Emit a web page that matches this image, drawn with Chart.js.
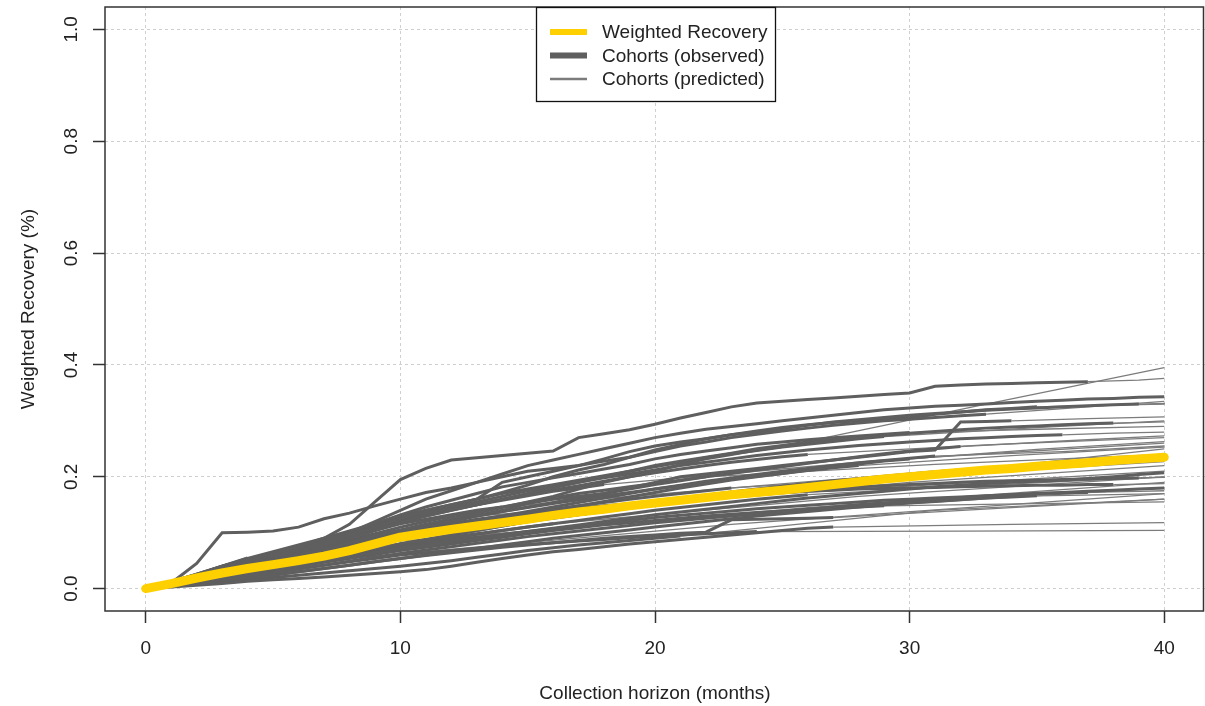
<!DOCTYPE html>
<html>
<head>
<meta charset="utf-8">
<script src="https://cdn.jsdelivr.net/npm/chart.js@4.4.1/dist/chart.umd.min.js"></script>
<style>
  html, body { margin: 0; padding: 0; background: #fff; }
</style>
</head>
<body>
<canvas id="myChart" width="1205" height="706"></canvas>
<script>
// weighted recovery by month 0..40
const weighted = [0, 0.009, 0.019, 0.028, 0.036, 0.043, 0.05, 0.058, 0.068, 0.08,
  0.092, 0.099, 0.106, 0.112, 0.118, 0.124, 0.131, 0.137, 0.142, 0.148,
  0.153, 0.158, 0.163, 0.168, 0.172, 0.176, 0.181, 0.186, 0.191, 0.196,
  0.2, 0.204, 0.208, 0.212, 0.215, 0.219, 0.222, 0.225, 0.229, 0.232, 0.235];

// observed cohort recovery, one value per month starting at month 0
const observed = [
  [0, .012, .025, .038, .05, .062, .075, .09, .115, .155, .195, .215, .23, .234, .238, .242, .246, .27, .277, .284, .294, .305, .315, .325, .332, .335, .338, .341, .344, .347, .35, .362, .364, .366, .367, .368, .369, .37],
  [0, .01, .022, .034, .046, .058, .07, .085, .1, .12, .14, .16, .175, .19, .205, .22, .23, .24, .25, .26, .27, .278, .285, .29, .295, .3, .305, .31, .315, .32, .323, .326, .328, .33, .333, .335, .337, .339, .34, .342, .343],
  [0, .01, .045, .1, .101, .103, .11, .125, .135, .148, .16, .172, .18, .19, .2, .21, .215, .22, .228, .235, .245, .255, .262, .27, .276, .282, .287, .292, .296, .3, .303, .306, .309, .312],
  [0, .008, .018, .03, .042, .055, .068, .08, .095, .11, .125, .14, .15, .16, .19, .2, .21, .22, .232, .245, .255, .262, .268, .275, .28, .286, .292, .298, .302, .306, .31, .313, .316, .319, .321, .323, .325, .327, .329, .33],
  [0, .008, .02, .03, .04, .05, .06, .07, .082, .095, .105, .115, .125, .135, .145, .155, .165, .178, .19, .2, .21, .222, .232, .24, .248, .254],
  [0, .012, .022, .031, .042, .05, .061, .07, .082, .09, .1, .112, .12, .131, .14, .152, .16, .165, .17, .18, .19, .2, .205, .21, .215, .22, .225, .23, .235, .24, .245, .248, .298, .299, .3],
  [0, .01, .02, .03, .04, .052, .064, .076, .09, .104, .118, .13, .14, .15, .16, .17, .18, .19, .2, .21, .22, .228, .235, .242, .25, .256, .262, .266, .27, .274, .278, .281, .284, .287, .289, .291, .293, .295, .296],
  [0, .01, .02, .032, .045, .058, .07, .083, .097, .11, .125, .135, .145, .155, .165, .175, .182, .19, .198, .205, .212, .22, .226, .232, .238, .243, .248, .252, .256, .259, .262, .265, .268, .27, .272, .274, .275],
  [0, .008, .016, .025, .034, .044, .054, .065, .076, .088, .1, .11, .12, .13, .138, .146, .154, .162, .17, .178, .186, .193, .2, .206, .212, .218, .224, .23, .236, .241, .246, .25, .254],
  [0, .007, .015, .024, .033, .042, .051, .06, .07, .08, .09, .1, .108, .116, .124, .132, .14, .148, .156, .164, .172, .18, .187, .194, .2, .206, .212, .218, .223, .228, .232],
  [0, .009, .018, .027, .037, .047, .057, .068, .08, .092, .104, .114, .122, .13, .138, .145, .152, .159, .166, .172, .178, .184, .19, .196, .201, .206, .211, .216, .22],
  [0, .006, .013, .02, .027, .034, .041, .048, .056, .064, .072, .078, .084, .09, .096, .102, .108, .114, .12, .126, .132, .137, .142, .147, .152, .157, .162, .166, .17, .174, .178, .182, .185, .188, .19, .192, .194, .197, .2, .204, .207],
  [0, .01, .02, .03, .04, .05, .06, .07, .08, .09, .1, .106, .112, .118, .124, .13, .135, .14, .145, .15, .155, .159, .163, .167, .17, .173, .176, .179, .182, .184, .186, .188, .19, .192, .193, .194, .195, .196, .197, .198],
  [0, .012, .024, .034, .044, .054, .064, .074, .084, .094, .104, .11, .116, .122, .128, .134, .139, .144, .148, .152, .156, .16, .163, .166, .169, .172, .174, .176, .178, .179, .18, .181, .182, .183, .184, .185, .185, .186, .186],
  [0, .005, .011, .017, .023, .029, .035, .042, .049, .056, .063, .069, .075, .081, .087, .093, .098, .103, .108, .113, .118, .122, .126, .13, .134, .138, .142, .146, .15, .153, .156, .159, .162, .165, .168, .17, .172, .174, .176, .178, .18],
  [0, .007, .014, .021, .028, .035, .042, .05, .058, .066, .074, .08, .086, .092, .097, .102, .107, .112, .117, .122, .127, .131, .135, .139, .143, .146, .149, .152, .155, .158, .16, .162, .164, .166, .168, .17, .171, .172],
  [0, .004, .009, .014, .019, .024, .03, .036, .042, .048, .054, .06, .066, .072, .078, .084, .09, .095, .1, .105, .11, .115, .12, .125, .13, .134, .138, .142, .146, .15, .153, .156, .159, .162, .164, .166],
  [0, .006, .012, .019, .026, .033, .04, .047, .054, .061, .068, .074, .08, .086, .092, .098, .104, .109, .114, .118, .122, .126, .13, .133, .136, .139, .142, .144, .146, .148],
  [0, .005, .01, .015, .02, .025, .03, .036, .042, .048, .054, .059, .064, .069, .074, .078, .082, .086, .09, .093, .096, .099, .101, .123, .124, .125, .126, .127],
  [0, .003, .006, .009, .013, .016, .018, .021, .024, .027, .03, .034, .04, .047, .054, .06, .066, .07, .075, .08, .084, .088, .092, .096, .1, .104, .108, .11],
  [0, .006, .012, .018, .024, .03, .036, .042, .048, .054, .06, .064, .068, .072, .076, .079, .082, .085, .088, .091, .094, .096, .098, .1, .102],
  [0, .01, .02, .03, .04, .05, .06, .07, .08, .09, .1, .108, .116, .124, .13, .136, .142, .148, .154, .16, .165, .17, .175, .18],
  [0, .012, .024, .036, .048, .058, .068, .078, .088, .098, .11, .12, .13, .138, .146, .154, .162, .17, .176, .182, .188, .194, .2],
  [0, .008, .016, .024, .032, .04, .048, .056, .064, .072, .08, .088, .096, .104, .112, .12, .126, .132, .138, .144, .15],
  [0, .01, .022, .034, .046, .058, .07, .084, .098, .112, .126, .134, .142, .15, .158, .166, .174, .18, .186],
  [0, .007, .015, .023, .031, .039, .047, .055, .063, .071, .08, .086, .092, .098, .104, .11, .116],
  [0, .01, .02, .032, .044, .056, .068, .08, .092, .104, .116, .124, .132, .14, .146],
  [0, .006, .014, .022, .03, .038, .046, .054, .062, .07, .078, .084, .09],
  [0, .012, .026, .04, .052, .064, .076, .088, .1, .11, .12],
  [0, .008, .018, .028, .038, .048, .058, .068, .078],
  [0, .006, .014, .022, .03, .038, .046],
  [0, .01, .025, .04, .055],
  [0, .009, .018, .028, .038, .048, .058, .068, .078, .088, .098, .106, .114, .122, .13, .138, .146, .154, .162, .17, .178, .185, .192, .198, .204, .21, .215, .22, .225, .229, .233, .237],
  [0, .008, .016, .024, .032, .04, .048, .056, .064, .072, .08, .088, .096, .104, .112, .12, .127, .134, .141, .148, .155, .161, .167, .173, .178, .183, .188, .193, .197, .201, .205, .209, .212, .215],
  [0, .007, .014, .021, .028, .036, .044, .052, .06, .068, .076, .083, .09, .097, .104, .11, .116, .122, .128, .134, .14, .145, .15, .155, .16, .164, .168],
  [0, .004, .008, .012, .016, .02, .024, .028, .032, .036, .04, .045, .05, .056, .062, .068, .073, .078, .082, .086, .09, .094],
  [0, .011, .023, .035, .047, .059, .071, .084, .1, .116, .132, .146, .158, .17, .182, .19, .198, .206, .214, .222, .232, .24, .246, .252, .258, .262, .266, .27, .273, .276, .279],
  [0, .01, .021, .033, .045, .057, .069, .082, .096, .108, .122, .135, .148, .16, .172, .185, .2, .212, .222, .235, .248, .258, .268, .275, .282, .288, .293, .297, .3, .303, .306, .312, .316, .32, .322, .325],
  [0, .012, .026, .04, .054, .066, .078, .09, .103, .116, .13, .14, .15, .16, .17, .178, .186, .194, .202, .21, .218, .226, .234, .241, .247, .253, .258, .263, .268, .272],
  [0, .009, .02, .031, .043, .055, .067, .08, .094, .108, .12, .13, .14, .15, .16, .168, .176, .184, .192, .2, .207, .214, .22, .226, .231, .236, .24]
];

// predicted continuation: value half way to month 40, and at month 40 (null = fully observed)
const predMid = [.373, null, .325, .331, .33, .304, .297, .278, .264, .249, .238, null, .199, .187, null, .174, .168, .152, .145, .115, .103,
  .205, .222, .19, .23, .165, .195, .145, .17, .135, .115, .16, .245, .222, .185, .14, .285, .328, .288, .257];
const predEnd = [.376, null, .335, .333, .395, .307, .298, .28, .273, .263, .253, null, .2, .188, null, .175, .17, .155, .16, .118, .104,
  .227, .24, .22, .26, .2, .23, .19, .21, .18, .17, .25, .255, .228, .2, .16, .29, .33, .3, .27];

const xTicks = [0, 10, 20, 30, 40];
const yTicks = [0, 0.2, 0.4, 0.6, 0.8, 1.0];
const legendLabels = ["Weighted Recovery", "Cohorts (observed)", "Cohorts (predicted)"];

const yellow = "#ffd000";
const darkGray = "#5f5f5f";
const lightGray = "#7c7c7c";
const textColor = "#222";

Chart.defaults.font.family = "'Liberation Sans', Arial, sans-serif";
Chart.defaults.font.size = 19;
Chart.defaults.color = textColor;

const datasets = [];
datasets.push({
  label: legendLabels[0],
  data: weighted.map((v, i) => ({ x: i, y: v })),
  borderColor: yellow,
  borderWidth: 9,
  borderCapStyle: "round",
  borderJoinStyle: "round",
});
observed.forEach(function (obs) {
  datasets.push({
    label: legendLabels[1],
    data: obs.map((v, i) => ({ x: i, y: v })),
    borderColor: darkGray,
    borderWidth: 3,
  });
});
observed.forEach(function (obs, k) {
  const last = obs.length - 1;
  if (predEnd[k] === null) return;
  const mid = Math.round((last + 40) / 2);
  datasets.push({
    label: legendLabels[2],
    data: [
      { x: last, y: obs[last] },
      { x: mid, y: predMid[k] },
      { x: 40, y: predEnd[k] },
    ],
    borderColor: lightGray,
    borderWidth: 1.3,
  });
});

// R style box around the plot plus the boxed legend at top centre
const boxPlugin = {
  id: "rbox",
  afterDraw(chart) {
    const ctx = chart.ctx;
    const a = chart.chartArea;
    ctx.save();
    ctx.strokeStyle = "#333";
    ctx.lineWidth = 1.5;
    ctx.strokeRect(a.left, a.top, a.right - a.left - 1.5, a.bottom - a.top);

    const w = 239, h = 94;
    const lx = Math.round((a.left + a.right) / 2 - w / 2);
    const ly = a.top;
    ctx.fillStyle = "#fff";
    ctx.fillRect(lx, ly, w, h);
    ctx.strokeStyle = "#111";
    ctx.lineWidth = 1.3;
    ctx.strokeRect(lx + 0.5, ly + 0.5, w, h);

    const rows = [
      { color: yellow, width: 6, text: legendLabels[0] },
      { color: darkGray, width: 6, text: legendLabels[1] },
      { color: lightGray, width: 2.5, text: legendLabels[2] },
    ];
    ctx.font = "19px 'Liberation Sans', Arial, sans-serif";
    ctx.textBaseline = "middle";
    rows.forEach(function (r, i) {
      const y = ly + 25 + i * 23.5;
      ctx.beginPath();
      ctx.strokeStyle = r.color;
      ctx.lineWidth = r.width;
      ctx.moveTo(lx + 14, y);
      ctx.lineTo(lx + 51, y);
      ctx.stroke();
      ctx.fillStyle = textColor;
      ctx.fillText(r.text, lx + 66, y + 1);
    });
    ctx.restore();
  },
};

const config = {
  type: "line",
  data: { datasets: datasets },
  options: {
    responsive: false,
    animation: false,
    events: [],
    layout: { padding: { top: 7, right: 0, bottom: 0, left: 0 } },
    elements: {
      point: { radius: 0 },
      line: { tension: 0, fill: false },
    },
    plugins: {
      legend: { display: false },
      tooltip: { enabled: false },
    },
    scales: {
      x: {
        type: "linear",
        min: -1.6,
        max: 41.6,
        afterBuildTicks: (s) => { s.ticks = xTicks.map((v) => ({ value: v })); },
        afterFit: (s) => { s.height = 95; s.paddingLeft = 0; s.paddingRight = 0; },
        border: { display: false, dash: [3, 3] },
        grid: { color: "#cfcfcf", lineWidth: 1, tickColor: "#333", tickLength: 12, tickWidth: 1.5, tickBorderDash: [] },
        ticks: { padding: 14, autoSkip: false, maxRotation: 0, callback: (v) => String(v) },
        title: { display: true, text: "Collection horizon (months)", padding: { top: 0, bottom: 1 } },
      },
      y: {
        type: "linear",
        min: -0.04,
        max: 1.04,
        afterBuildTicks: (s) => { s.ticks = yTicks.map((v) => ({ value: v })); },
        afterFit: (s) => { s.width = 105; s.paddingTop = 0; s.paddingBottom = 0; },
        border: { display: false, dash: [3, 3] },
        grid: { color: "#cfcfcf", lineWidth: 1, tickColor: "#333", tickLength: 12, tickWidth: 1.5, tickBorderDash: [] },
        ticks: { padding: 8, autoSkip: false, minRotation: 90, maxRotation: 90, crossAlign: "center", callback: (v) => v.toFixed(1) },
        title: { display: true, text: "Weighted Recovery (%)", padding: { top: 17, bottom: 0 } },
      },
    },
  },
  plugins: [boxPlugin],
};

const myChart = new Chart(document.getElementById("myChart"), config);
</script>
</body>
</html>
